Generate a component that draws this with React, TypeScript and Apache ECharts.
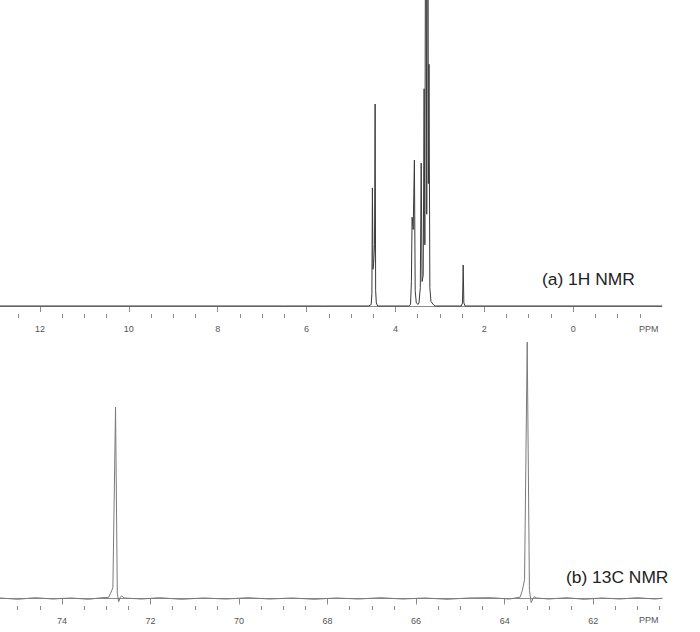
import React, { useEffect, useRef } from "react";
import * as echarts from "echarts";

// 1H NMR spectrum (ppm, intensity)
const H1_PPM = [12.9, 6.5, 5.6, 4.6, 4.545, 4.53, 4.518, 4.505, 4.49, 4.47, 4.457, 4.445, 4.43, 4.4, 3.7, 3.66, 3.64, 3.625, 3.6, 3.573, 3.555, 3.53, 3.49, 3.47, 3.44, 3.42, 3.4, 3.375, 3.354, 3.338, 3.316, 3.295, 3.271, 3.258, 3.244, 3.225, 3.2, 3.15, 3.1, 2.52, 2.49, 2.475, 2.46, 2.43, -2.0];
const H1_INT = [0, 0, 0, 0, 0.5, 4, 38.6, 12, 14, 20, 66, 5, 1, 0, 0, 0.5, 8, 29, 25, 47.7, 5, 1, 0.5, 1, 6, 46.7, 8, 10, 71, 20, 180, 30, 200, 40, 79, 6, 1.5, 0.5, 0, 0, 1, 13.4, 1, 0, 0];

// 13C NMR spectrum (ppm, intensity)
const C13_PPM = [75.4, 75.0, 74.6, 74.2, 73.8, 73.4, 73.1, 72.95, 72.9, 72.85, 72.79, 72.75, 72.72, 72.68, 72.65, 72.6, 72.2, 71.8, 71.3, 70.8, 70.3, 69.8, 69.3, 68.8, 68.3, 67.8, 67.3, 66.8, 66.3, 65.8, 65.3, 64.8, 64.3, 63.9, 63.65, 63.6, 63.55, 63.49, 63.44, 63.4, 63.36, 63.33, 63.28, 63.0, 62.6, 62.2, 61.8, 61.4, 61.0, 60.6, 60.44];
const C13_INT = [0.2, -0.3, 0.3, -0.2, 0.2, -0.3, 0.3, 0.4, 2, 4, 71.3, 2, -1.2, 0.5, 1, 0.2, -0.2, 0.3, -0.3, 0.2, -0.2, 0.3, -0.2, 0.2, -0.3, 0.2, -0.2, 0.3, -0.2, 0.2, -0.3, 0.2, 0.3, -0.2, 0.5, 3, 7, 95.5, 3, -1.5, 0, 0.7, 0.2, -0.2, 0.3, -0.3, 0.2, -0.2, 0.3, -0.2, 0.1];

// axis ticks / labels
const H1_MAJOR = [12, 10, 8, 6, 4, 2, 0];
const H1_MINOR = [12.5, 11.5, 11, 10.5, 9.5, 9, 8.5, 7.5, 7, 6.5, 5.5, 5, 4.5, 3.5, 3, 2.5, 1.5, 1, 0.5, -0.5, -1, -1.5];
const C13_MAJOR = [74, 72, 70, 68, 66, 64, 62];
const C13_MINOR = [75, 74.5, 73.5, 73, 72.5, 71.5, 71, 70.5, 69.5, 69, 68.5, 67.5, 67, 66.5, 65.5, 65, 64.5, 63.5, 63, 62.5, 61.5, 61, 60.5];

const H1_RANGE = [-2.0, 12.9];
const C13_RANGE = [60.445, 75.4];

const FONT = "Liberation Sans, Arial, sans-serif";
const AXIS_COLOR = "#8a8a8a";

function makeAxes(gridIndex: number, range: number[], major: number[], minor: number[]) {
  const base = {
    type: "value",
    gridIndex,
    position: "bottom",
    inverse: true,
    min: range[0],
    max: range[1],
    splitLine: { show: false },
  };
  return [
    {
      ...base,
      axisLine: { show: true, lineStyle: { color: AXIS_COLOR, width: 1 } },
      axisTick: { show: true, length: 6, customValues: major, lineStyle: { color: AXIS_COLOR } },
      axisLabel: {
        show: true,
        customValues: major,
        margin: 10,
        fontSize: 9,
        color: "#555",
        fontFamily: FONT,
      },
    },
    {
      ...base,
      axisLine: { show: false },
      axisTick: { show: true, length: 4, customValues: minor, lineStyle: { color: AXIS_COLOR } },
      axisLabel: { show: false },
    },
  ];
}

export default function App() {
  const ref = useRef<HTMLDivElement>(null);
  useEffect(() => {
    if (!ref.current) return;
    const chart = echarts.init(ref.current, undefined, { renderer: "svg" });
    const h1Data = H1_PPM.map((p, i) => [p, H1_INT[i]]);
    const c13Data = C13_PPM.map((p, i) => [p, C13_INT[i]]);
    chart.setOption({
      animation: false,
      backgroundColor: "#ffffff",
      grid: [
        { left: 0, width: 662, top: 0, height: 314 },
        { left: 0, width: 662, top: 330, height: 276 },
      ],
      xAxis: [
        ...makeAxes(0, H1_RANGE, H1_MAJOR, H1_MINOR),
        ...makeAxes(1, C13_RANGE, C13_MAJOR, C13_MINOR),
      ],
      yAxis: [
        { type: "value", gridIndex: 0, show: false, min: -2.614, max: 100, splitLine: { show: false } },
        { type: "value", gridIndex: 1, show: false, min: -2.793, max: 100, splitLine: { show: false } },
      ],
      series: [
        {
          type: "line",
          xAxisIndex: 0,
          yAxisIndex: 0,
          data: h1Data,
          showSymbol: false,
          clip: true,
          lineStyle: { color: "#3a3a3a", width: 1 },
        },
        {
          type: "line",
          xAxisIndex: 2,
          yAxisIndex: 1,
          data: c13Data,
          showSymbol: false,
          clip: true,
          lineStyle: { color: "#7a7a7a", width: 1 },
        },
      ],
      graphic: [
        {
          type: "text",
          left: 542,
          top: 270,
          style: { text: "(a) 1H NMR", fontSize: 17.4, fontFamily: FONT, fill: "#222" },
        },
        {
          type: "text",
          left: 566,
          top: 568,
          style: { text: "(b) 13C NMR", fontSize: 17.4, fontFamily: FONT, fill: "#222" },
        },
        {
          type: "text",
          left: 639,
          top: 324,
          style: { text: "PPM", fontSize: 9, fontFamily: FONT, fill: "#555" },
        },
        {
          type: "text",
          left: 639,
          top: 615,
          style: { text: "PPM", fontSize: 9, fontFamily: FONT, fill: "#555" },
        },
      ],
    });
    return () => chart.dispose();
  }, []);
  return (
    <div
      ref={ref}
      style={{ position: "fixed", left: 0, top: 0, width: 700, height: 632, background: "#fff" }}
    />
  );
}
